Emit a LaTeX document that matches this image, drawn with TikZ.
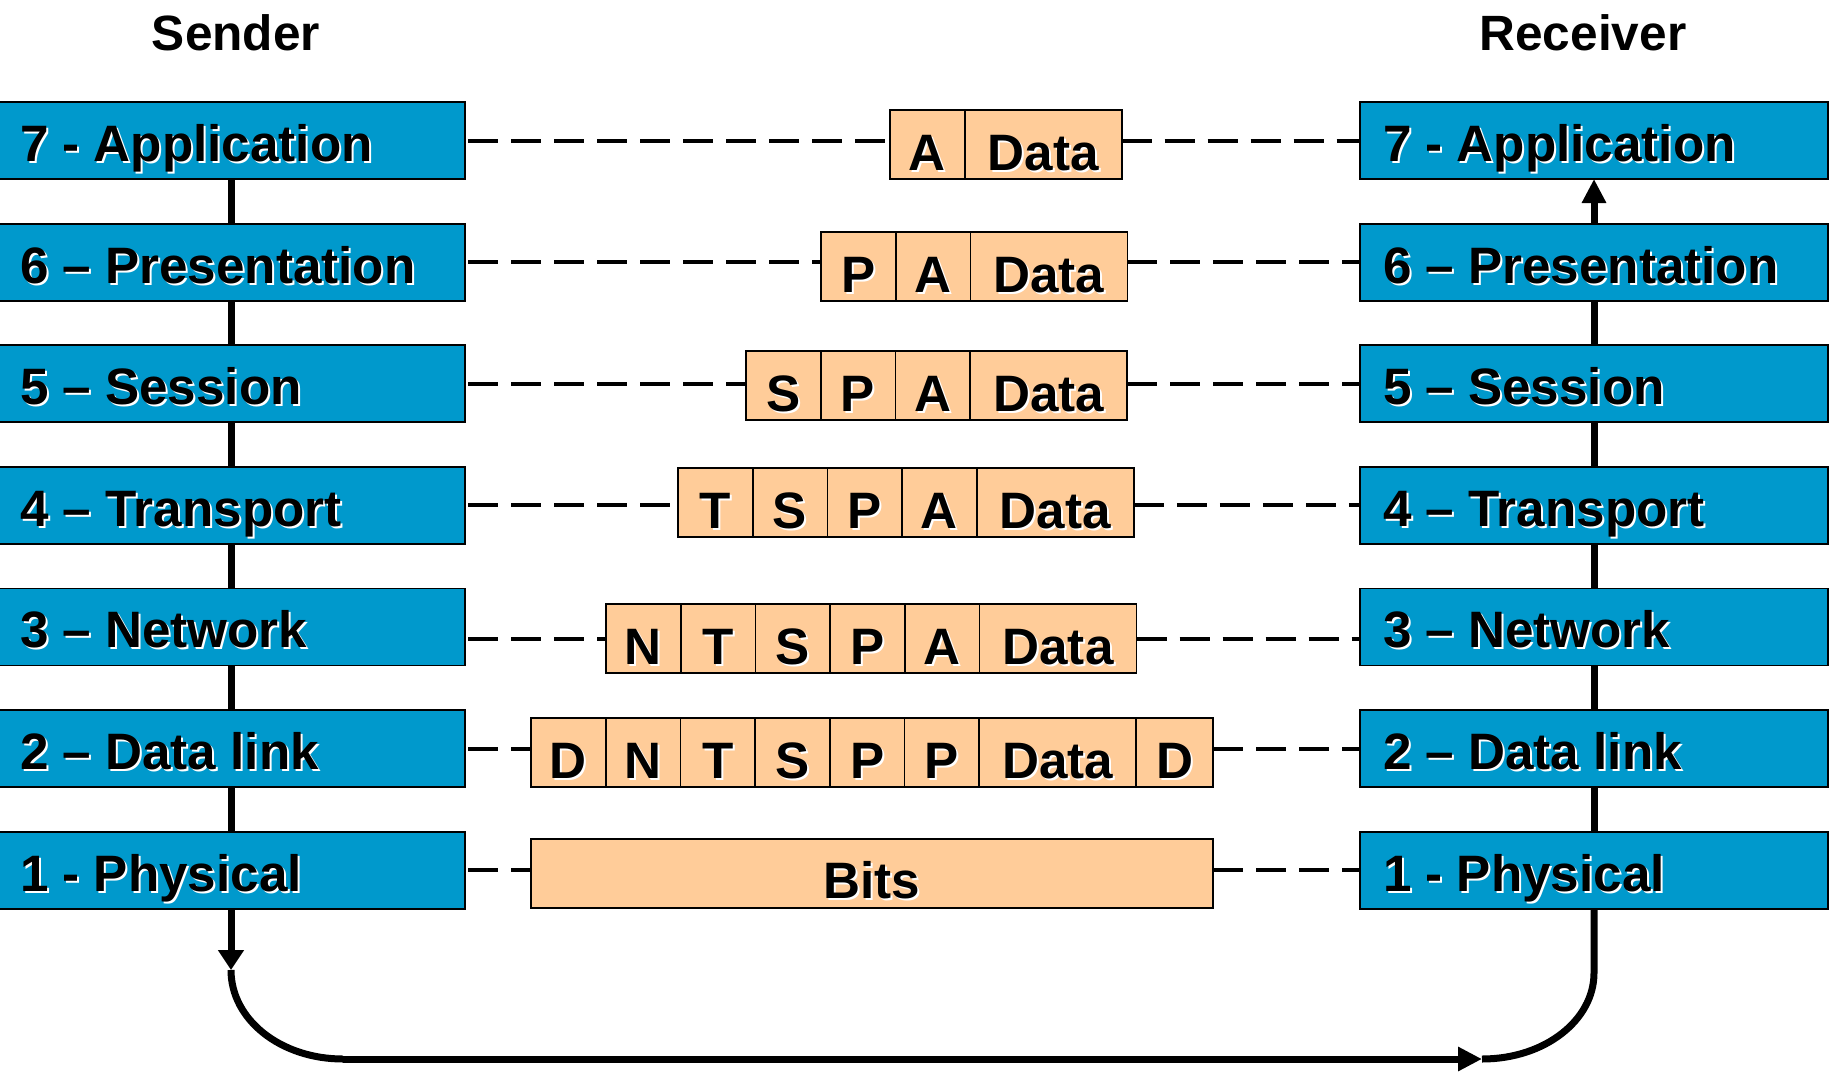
\documentclass[tikz,border=0pt]{standalone}
\usepackage{fontspec}
\setmainfont{Liberation Sans}
\usetikzlibrary{arrows.meta}
\definecolor{layerblue}{RGB}{0,153,204}
\definecolor{pktorange}{RGB}{255,204,153}
\newcommand\shd[1]{\makebox[0pt][l]{\hspace*{1pt}\raisebox{-1pt}{\textcolor{white}{#1}}}#1}
\newcommand\laytxt[1]{\makebox[211pt][l]{\shd{#1}}}
\newcommand\bigfont{\fontsize{25.6pt}{29pt}\selectfont\bfseries}
\newcommand\headfont{\fontsize{24.8pt}{30pt}\selectfont\bfseries}
\begin{document}
\begin{tikzpicture}[x=0.5pt,y=-0.5pt,
  layer/.style={draw=black,line width=0.9pt,fill=layerblue,minimum width=234pt,
    minimum height=38.5pt,inner xsep=11.5pt,inner ysep=0pt,outer sep=0pt,anchor=north west,
    text height=21pt,text depth=0pt,font=\bigfont},
  cell/.style={draw=black,line width=0.9pt,fill=pktorange,minimum width=37.35pt,
    minimum height=34.5pt,inner sep=0pt,outer sep=0pt,anchor=north west,
    text height=25.5pt,text depth=0pt,font=\bigfont},
  datacell/.style={cell,minimum width=78.5pt},
  endcell/.style={cell,minimum width=38.5pt},
  bitscell/.style={cell,minimum width=341pt,text height=24.5pt},
  head/.style={font=\headfont,anchor=base,inner sep=0pt},
  conn/.style={line width=3.5pt,black},
  tip/.style={-{Triangle[length=12pt,width=11.5pt]}},
  dsh/.style={line width=2pt,black,dash pattern=on 15pt off 6.5pt}
]
\useasboundingbox (0,0) rectangle (1836,1071);

% headings
\node[head] (snd) at (236,50) {\shd{Sender}};
\node[head] (rcv) at (1583,50) {\shd{Receiver}};

% sender layers
\node[layer] (L7) at (-3,102)   {\laytxt{7 - Application}};
\node[layer] (L6) at (-3,223.6) {\laytxt{6 -- Presentation}};
\node[layer] (L5) at (-3,345.2) {\laytxt{5 -- Session}};
\node[layer] (L4) at (-3,466.8) {\laytxt{4 -- Transport}};
\node[layer] (L3) at (-3,588.4) {\laytxt{3 -- Network}};
\node[layer] (L2) at (-3,710)   {\laytxt{2 -- Data link}};
\node[layer] (L1) at (-3,831.6) {\laytxt{1 - Physical}};

% receiver layers
\node[layer] (R7) at (1360,102)   {\laytxt{7 - Application}};
\node[layer] (R6) at (1360,223.6) {\laytxt{6 -- Presentation}};
\node[layer] (R5) at (1360,345.2) {\laytxt{5 -- Session}};
\node[layer] (R4) at (1360,466.8) {\laytxt{4 -- Transport}};
\node[layer] (R3) at (1360,588.4) {\laytxt{3 -- Network}};
\node[layer] (R2) at (1360,710)   {\laytxt{2 -- Data link}};
\node[layer] (R1) at (1360,831.6) {\laytxt{1 - Physical}};

% packets
\node[cell] (p7-1) at (890,110) {\shd{A}};
\node[datacell] (p7-2) at (p7-1.north east) {\shd{Data}};

\node[cell] (p6-1) at (821,232) {\shd{P}};
\node[cell] (p6-2) at (p6-1.north east) {\shd{A}};
\node[datacell] (p6-3) at (p6-2.north east) {\shd{Data}};

\node[cell] (p5-1) at (746,351) {\shd{S}};
\node[cell] (p5-2) at (p5-1.north east) {\shd{P}};
\node[cell] (p5-3) at (p5-2.north east) {\shd{A}};
\node[datacell] (p5-4) at (p5-3.north east) {\shd{Data}};

\node[cell] (p4-1) at (678,468) {\shd{T}};
\node[cell] (p4-2) at (p4-1.north east) {\shd{S}};
\node[cell] (p4-3) at (p4-2.north east) {\shd{P}};
\node[cell] (p4-4) at (p4-3.north east) {\shd{A}};
\node[datacell] (p4-5) at (p4-4.north east) {\shd{Data}};

\node[cell] (p3-1) at (606,604) {\shd{N}};
\node[cell] (p3-2) at (p3-1.north east) {\shd{T}};
\node[cell] (p3-3) at (p3-2.north east) {\shd{S}};
\node[cell] (p3-4) at (p3-3.north east) {\shd{P}};
\node[cell] (p3-5) at (p3-4.north east) {\shd{A}};
\node[datacell] (p3-6) at (p3-5.north east) {\shd{Data}};

\node[cell] (p2-1) at (531,718) {\shd{D}};
\node[cell] (p2-2) at (p2-1.north east) {\shd{N}};
\node[cell] (p2-3) at (p2-2.north east) {\shd{T}};
\node[cell] (p2-4) at (p2-3.north east) {\shd{S}};
\node[cell] (p2-5) at (p2-4.north east) {\shd{P}};
\node[cell] (p2-6) at (p2-5.north east) {\shd{P}};
\node[datacell] (p2-7) at (p2-6.north east) {\shd{Data}};
\node[endcell] (p2-8) at (p2-7.north east) {\shd{D}};

\node[bitscell] (p1-1) at (531,839) {\shd{Bits}};

% dashed peer lines
\foreach \r/\f/\l in {7/1/2,6/1/3,5/1/4,4/1/5,2/1/8,1/1/1}{
  \draw[dsh] ([xshift=1.5pt]L\r.east) -- (L\r.east -| p\r-\f.west);
  \draw[dsh] (p\r-\l.east |- R\r.west) -- (R\r.west);
}
\draw[dsh] ([xshift=1.5pt]L3.east |- p3-1.west) -- (p3-1.west);
\draw[dsh] (p3-6.east) -- (R3.west |- p3-6.east);

% sender vertical connectors
\draw[conn] (L7.south) -- (L6.north);
\draw[conn] (L6.south) -- (L5.north);
\draw[conn] (L5.south) -- (L4.north);
\draw[conn] (L4.south) -- (L3.north);
\draw[conn] (L3.south) -- (L2.north);
\draw[conn] (L2.south) -- (L1.north);

% receiver vertical connectors
\draw[conn,tip] (R6.north) -- (R7.south);
\draw[conn] (R5.north) -- (R6.south);
\draw[conn] (R4.north) -- (R5.south);
\draw[conn] (R3.north) -- (R4.south);
\draw[conn] (R2.north) -- (R3.south);
\draw[conn] (R1.north) -- (R2.south);

% physical medium path
\coordinate (c1) at (231,970);
\coordinate (c2) at (343,1059);
\coordinate (c3) at (1482,1059);
\coordinate (c4) at (1594,973);
\draw[conn,-{Triangle[length=10pt,width=12.5pt]}] (L1.south) -- (c1);
\draw[conn] (c1) .. controls (231,1020) and (281,1059) .. (c2);
\draw[conn,tip] (c2) -- (c3);
\draw[conn] (c3) .. controls (1545,1059) and (1594,1020) .. (c4) -- (R1.south);
\end{tikzpicture}
\end{document}
